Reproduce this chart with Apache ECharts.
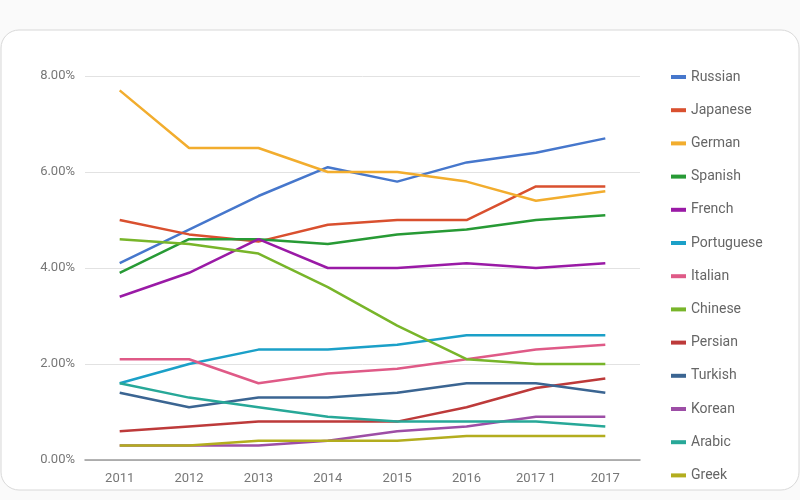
<!DOCTYPE html>
<html>
<head>
<meta charset="utf-8">
<style>
  html, body { margin: 0; padding: 0; background: #fafafa; }
  #main { width: 800px; height: 500px; }
</style>
<script src="https://cdn.jsdelivr.net/npm/echarts@6/dist/echarts.min.js"></script>
</head>
<body>
<div id="main"></div>
<script>
// 类目与各语言占比（%）
var years = ['2011', '2012', '2013', '2014', '2015', '2016', '2017 1', '2017'];
var yTicks = [0, 2, 4, 6, 8];

var russian    = [4.1, 4.8, 5.5, 6.1, 5.8, 6.2, 6.4, 6.7];
var japanese   = [5.0, 4.7, 4.55, 4.9, 5.0, 5.0, 5.7, 5.7];
var german     = [7.7, 6.5, 6.5, 6.0, 6.0, 5.8, 5.4, 5.6];
var spanish    = [3.9, 4.6, 4.6, 4.5, 4.7, 4.8, 5.0, 5.1];
var french     = [3.4, 3.9, 4.6, 4.0, 4.0, 4.1, 4.0, 4.1];
var portuguese = [1.6, 2.0, 2.3, 2.3, 2.4, 2.6, 2.6, 2.6];
var italian    = [2.1, 2.1, 1.6, 1.8, 1.9, 2.1, 2.3, 2.4];
var chinese    = [4.6, 4.5, 4.3, 3.6, 2.8, 2.1, 2.0, 2.0];
var persian    = [0.6, 0.7, 0.8, 0.8, 0.8, 1.1, 1.5, 1.7];
var turkish    = [1.4, 1.1, 1.3, 1.3, 1.4, 1.6, 1.6, 1.4];
var korean     = [0.3, 0.3, 0.3, 0.4, 0.6, 0.7, 0.9, 0.9];
var arabic     = [1.6, 1.3, 1.1, 0.9, 0.8, 0.8, 0.8, 0.7];
var greek      = [0.3, 0.3, 0.4, 0.4, 0.4, 0.5, 0.5, 0.5];

var names = ['Russian', 'Japanese', 'German', 'Spanish', 'French', 'Portuguese', 'Italian',
             'Chinese', 'Persian', 'Turkish', 'Korean', 'Arabic', 'Greek'];
var values = [russian, japanese, german, spanish, french, portuguese, italian,
              chinese, persian, turkish, korean, arabic, greek];
var colors = ['#4677cc', '#d9502f', '#f2ad2e', '#279a35', '#9a1aa6', '#1ba0c8', '#df5a87',
              '#78b52a', '#bd3a3a', '#3b6592', '#9d4ea6', '#27a898', '#b3ad1e'];

var myChart = echarts.init(document.getElementById('main'));

var series = [];
for (var i = 0; i < names.length; i++) {
  series.push({
    name: names[i],
    type: 'line',
    data: values[i],
    showSymbol: false,
    symbol: 'none',
    lineStyle: { width: 2.5, color: colors[i] },
    itemStyle: { color: colors[i] }
  });
}

var option = {
  animation: false,
  textStyle: { fontFamily: 'Roboto' },
  graphic: [{
    type: 'rect',
    z: -10,
    shape: { x: 1, y: 30, width: 798, height: 460, r: 18 },
    style: { fill: '#ffffff', stroke: '#d8d8d8', lineWidth: 1 }
  }],
  grid: { left: 85, right: 160, top: 76, bottom: 40 },
  legend: {
    orient: 'vertical',
    left: 666,
    top: 65,
    itemWidth: 15,
    itemHeight: 14,
    itemGap: 19.2,
    icon: 'path://M0,5 L15,5 L15,9 L0,9 Z',
    textStyle: { color: '#666', fontSize: 14, lineHeight: 14 },
    data: names
  },
  xAxis: {
    type: 'category',
    data: years,
    boundaryGap: true,
    axisLine: { lineStyle: { color: '#9a9a9a', width: 1.5 } },
    axisTick: { show: false },
    axisLabel: { color: '#777', fontSize: 13, margin: 12 }
  },
  yAxis: {
    type: 'value',
    min: yTicks[0],
    max: yTicks[yTicks.length - 1],
    interval: 2,
    axisLine: { show: false },
    axisTick: { show: false },
    splitLine: { lineStyle: { color: '#e2e2e2', width: 1 } },
    axisLabel: {
      color: '#777', fontSize: 13, margin: 10,
      formatter: function (v) { return v.toFixed(2) + '%'; }
    }
  },
  series: series
};

myChart.setOption(option);
</script>
</body>
</html>
